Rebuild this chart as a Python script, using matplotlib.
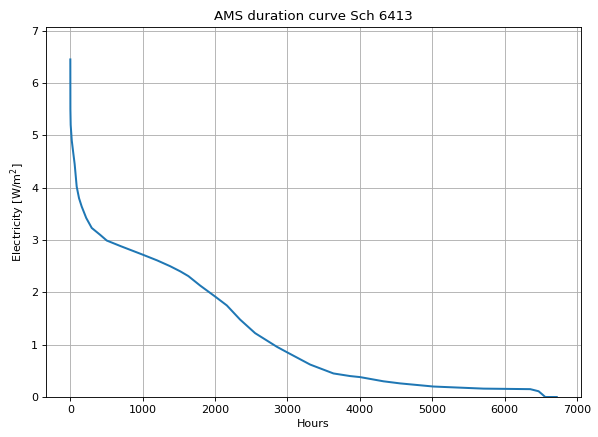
import matplotlib
matplotlib.use("Agg")
import matplotlib.pyplot as plt

# duration curve (sorted hourly values)
hours = [0, 1, 5, 20, 41, 60, 88, 120, 157, 220, 296, 411, 503, 700, 1000,
         1200, 1378, 1520, 1631, 1793, 2000, 2162, 2345, 2553, 2853, 3000,
         3313, 3635, 3866, 4004, 4326, 4556, 5017, 5708, 6354, 6469, 6520,
         6561, 6720]
electricity = [6.45, 5.5, 5.2, 4.9, 4.66, 4.45, 4.02, 3.8, 3.64, 3.42, 3.23,
               3.10, 2.99, 2.88, 2.72, 2.61, 2.50, 2.40, 2.31, 2.13, 1.92,
               1.75, 1.48, 1.22, 0.96, 0.85, 0.62, 0.45, 0.40, 0.38, 0.30,
               0.26, 0.20, 0.16, 0.15, 0.11, 0.05, 0.0, 0.0]

# reference looks like a default figure saved at 80 dpi
DPI = 80
fig = plt.figure(figsize=(598 / DPI, 437 / DPI), dpi=DPI)
ax = fig.add_axes([46 / 598, 1 - 397 / 437, (581 - 46) / 598, (397 - 27) / 437])

ax.plot(hours, electricity, color="#1f77b4", lw=1.8)
ax.set_xlim(-336, 7055)
ax.set_ylim(0, 7.07)
ax.grid(True, color="#b0b0b0", lw=0.8)
ax.set_axisbelow(True)

ax.set_xlabel("Hours")
ax.set_ylabel("Electricity [W/m$^2$]")
ax.set_title("AMS duration curve Sch 6413")

fig.savefig("out.png", dpi=DPI)
